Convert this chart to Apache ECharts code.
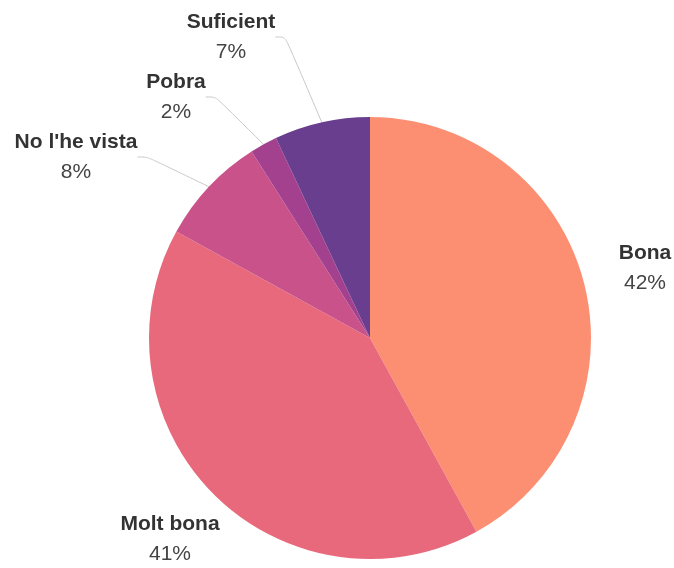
<!DOCTYPE html>
<html>
<head>
<meta charset="utf-8">
<script src="https://cdn.jsdelivr.net/npm/echarts@6/dist/echarts.min.js"></script>
<style>
  html, body { margin: 0; padding: 0; background: #fff; }
  #chart { width: 674px; height: 568px; }
</style>
</head>
<body>
<div id="chart"></div>
<script>
var categories = ["Bona", "Molt bona", "No l'he vista", "Pobra", "Suficient"];
var values = [42, 41, 8, 2, 7];
var colors = ['#fc8f72', '#e8697b', '#c9528a', '#a3418f', '#693e8f'];
// label anchor points (text block centres)
var labelPos = [[645, 268], [170, 539], [76, 157], [176, 97], [231, 37]];
var showLine = [false, false, true, true, true];

function initChart(){
	var seriesData = [];
	for(var i=0;i<categories.length;i++){
		seriesData[i] = {
			name: categories[i],
			value: values[i],
			labelLine: { show: showLine[i] }
		};
	}
	var myChart = echarts.init(document.getElementById("chart"));
	var option = {
		animation: false,
		color: colors,
		series: [{
			type: 'pie',
			center: [370, 338],
			radius: [0, 221],
			startAngle: 90,
			clockwise: true,
			data: seriesData,
			label: {
				show: true,
				position: 'outside',
				overflow: 'none',
				fontFamily: 'Liberation Sans',
				formatter: '{n|{b}}\n{p|{c}%}',
				align: 'center',
				rich: {
					n: { fontSize: 21, fontWeight: 'bold', color: '#333', lineHeight: 30, align: 'center', fontFamily: 'Liberation Sans' },
					p: { fontSize: 21, color: '#444', lineHeight: 30, align: 'center', fontFamily: 'Liberation Sans' }
				}
			},
			labelLine: {
				smooth: 0.3,
				length: 20,
				length2: 10,
				lineStyle: { color: '#c8c8c8', width: 1 }
			},
			labelLayout: function(params){
				var p = labelPos[params.dataIndex];
				return {
					x: p[0],
					y: p[1],
					align: 'center',
					verticalAlign: 'middle'
				};
			}
		}]
	};
	myChart.setOption(option);
}
initChart();
</script>
</body>
</html>
